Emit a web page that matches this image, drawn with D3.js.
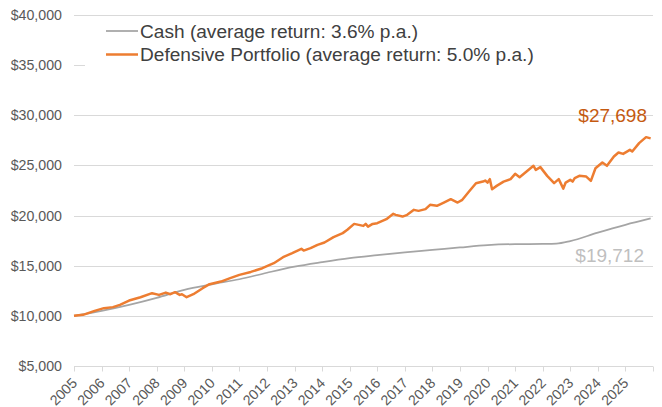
<!DOCTYPE html>
<html>
<head>
<meta charset="utf-8">
<script src="https://cdnjs.cloudflare.com/ajax/libs/d3/7.8.5/d3.min.js"></script>
<style>
  body { margin: 0; background: #fff; }
  text { font-family: Arial, "Liberation Sans", sans-serif; }
</style>
</head>
<body>
<div id="chart"></div>
<script>
// y axis ticks
var yTicks = [5000, 10000, 15000, 20000, 25000, 30000, 35000, 40000];

// x axis year labels (ticks at each Jan)
var yearLabels = d3.range(2005, 2026);

// cash series (smooth, read at a few points)
var cashDates = ['2005-01', '2006-01', '2007-01', '2008-01', '2009-01', '2010-01', '2011-01',
  '2012-01', '2013-01', '2014-01', '2015-01', '2016-01', '2017-01', '2018-01', '2019-01',
  '2020-01', '2021-01', '2022-01', '2022-07', '2023-01', '2024-01', '2025-01', '2025-12'];
var cashValues = [10000, 10500, 11100, 11800, 12600, 13150, 13650,
  14300, 14900, 15350, 15750, 16050, 16330, 16570, 16820,
  17050, 17150, 17170, 17200, 17450, 18300, 19080, 19712];

// defensive portfolio series
var defDates = ['2005-01', '2005-05', '2005-10', '2006-02', '2006-06', '2006-09', '2007-01',
  '2007-06', '2007-11', '2008-02', '2008-05', '2008-07', '2008-09', '2008-11', '2008-12',
  '2009-02', '2009-05', '2009-09', '2009-12', '2010-05', '2010-09', '2011-01', '2011-06',
  '2011-11', '2012-04', '2012-08', '2012-12', '2013-04', '2013-05', '2013-08', '2013-11',
  '2014-02', '2014-06', '2014-10', '2014-12', '2015-03', '2015-05', '2015-07', '2015-08',
  '2015-09', '2015-11', '2016-01', '2016-05', '2016-08', '2016-09', '2016-12', '2017-02',
  '2017-05', '2017-07', '2017-10', '2017-12', '2018-03', '2018-06', '2018-09', '2018-12',
  '2019-02', '2019-05', '2019-08', '2019-11', '2019-12', '2020-01', '2020-02', '2020-03',
  '2020-05', '2020-08', '2020-11', '2021-01', '2021-03', '2021-06', '2021-09', '2021-10',
  '2021-12', '2022-03', '2022-06', '2022-08', '2022-10', '2022-11', '2023-01', '2023-02',
  '2023-03', '2023-05', '2023-08', '2023-10', '2023-12', '2024-03', '2024-05', '2024-08',
  '2024-10', '2024-12', '2025-03', '2025-04', '2025-07', '2025-10', '2025-12'];
var defValues = [10000, 10100, 10500, 10770, 10870, 11100, 11530,
  11860, 12260, 12090, 12320, 12160, 12360, 12090, 12160,
  11860, 12160, 12760, 13160, 13420, 13760, 14090, 14380,
  14750, 15250, 15850, 16250, 16680, 16510, 16750, 17080,
  17310, 17850, 18250, 18580, 19170, 19070, 18970, 19170,
  18900, 19170, 19240, 19640, 20170, 20070, 19900, 20070,
  20570, 20470, 20640, 21070, 20970, 21300, 21630, 21300,
  21570, 22400, 23230, 23390, 23490, 23290, 23630, 22630,
  22960, 23390, 23630, 24160, 23830, 24390, 24960, 24560,
  24830, 23960, 23230, 23630, 22690, 23290, 23560, 23390,
  23730, 23960, 23890, 23460, 24720, 25290, 24960, 25890,
  26290, 26150, 26550, 26390, 27220, 27820, 27698];

var seriesNames = ['Cash (average return: 3.6% p.a.)', 'Defensive Portfolio (average return: 5.0% p.a.)'];
var seriesColors = ['#a5a5a5', '#ed7d31'];
var endLabels = ['$19,712', '$27,698'];

var width = 662, height = 407;
var margin = { top: 15, right: 9, bottom: 41, left: 74 };

var parse = d3.timeParse('%Y-%m');

var x = d3.scaleTime()
  .domain([new Date(2005, 0, 1), new Date(2026, 0, 1)])
  .range([margin.left, width - margin.right]);

var y = d3.scaleLinear()
  .domain([5000, 40000])
  .range([height - margin.bottom, margin.top]);

var svg = d3.select('#chart').append('svg')
  .attr('width', width)
  .attr('height', height);

//////////////////////// gridlines & axes ////////////////////////

svg.append('g')
  .selectAll('line')
  .data(yTicks)
  .enter().append('line')
  .attr('x1', x.range()[0])
  .attr('x2', x.range()[1])
  .attr('y1', function(d) { return Math.round(y(d)) + 0.5; })
  .attr('y2', function(d) { return Math.round(y(d)) + 0.5; })
  .attr('stroke', '#d9d9d9')
  .attr('stroke-width', 1);

svg.append('g')
  .selectAll('text')
  .data(yTicks)
  .enter().append('text')
  .attr('x', 62)
  .attr('y', function(d) { return y(d); })
  .attr('dy', '0.35em')
  .attr('text-anchor', 'end')
  .attr('font-size', '14.2px')
  .attr('fill', '#595959')
  .text(function(d) { return '$' + d3.format(',')(d); });

// year ticks on the bottom line
var yearTicks = d3.range(2005, 2027).map(function(yr) { return new Date(yr, 0, 1); });
var baseY = Math.round(y(5000)) + 0.5;

svg.append('g')
  .selectAll('line')
  .data(yearTicks)
  .enter().append('line')
  .attr('x1', function(d) { return Math.round(x(d)) + 0.5; })
  .attr('x2', function(d) { return Math.round(x(d)) + 0.5; })
  .attr('y1', baseY)
  .attr('y2', baseY + 5)
  .attr('stroke', '#d9d9d9');

svg.append('g')
  .selectAll('text')
  .data(yearLabels)
  .enter().append('text')
  .attr('transform', function(d) {
    return 'translate(' + (x(new Date(d, 0, 1)) + 4) + ',' + 384 + ') rotate(-45)';
  })
  .attr('text-anchor', 'end')
  .attr('font-size', '14.2px')
  .attr('fill', '#595959')
  .text(function(d) { return d; });

//////////////////////// lines ////////////////////////

var line = d3.line()
  .x(function(d) { return x(d.date); })
  .y(function(d) { return y(d.value); });

var cash = cashDates.map(function(d, i) { return { date: parse(d), value: cashValues[i] }; });
var def = defDates.map(function(d, i) { return { date: parse(d), value: defValues[i] }; });

svg.append('path')
  .datum(cash)
  .attr('d', line.curve(d3.curveMonotoneX))
  .attr('fill', 'none')
  .attr('stroke', seriesColors[0])
  .attr('stroke-width', 1.75);

svg.append('path')
  .datum(def)
  .attr('d', line.curve(d3.curveLinear))
  .attr('fill', 'none')
  .attr('stroke', seriesColors[1])
  .attr('stroke-width', 2.5)
  .attr('stroke-linejoin', 'round');

// end value labels
svg.append('text')
  .attr('x', 647)
  .attr('y', 122)
  .attr('text-anchor', 'end')
  .attr('font-size', '19px')
  .attr('fill', '#c55a11')
  .text(endLabels[1]);

svg.append('text')
  .attr('x', 644)
  .attr('y', 262)
  .attr('text-anchor', 'end')
  .attr('font-size', '19px')
  .attr('fill', '#bfbfbf')
  .text(endLabels[0]);

//////////////////////// legend ////////////////////////

var legend = svg.append('g');

legend.append('rect')
  .attr('x', 85)
  .attr('y', 18)
  .attr('width', width - margin.right - 85)
  .attr('height', 56)
  .attr('fill', '#fff');

var items = legend.selectAll('.item')
  .data(seriesNames)
  .enter().append('g')
  .attr('class', 'item')
  .attr('transform', function(d, i) { return 'translate(0,' + (31 + i * 23.5) + ')'; });

items.append('line')
  .attr('x1', 106)
  .attr('x2', 138)
  .attr('stroke', function(d, i) { return seriesColors[i]; })
  .attr('stroke-width', function(d, i) { return i === 1 ? 2.5 : 1.75; });

items.append('text')
  .attr('x', 140)
  .attr('dy', '0.35em')
  .attr('font-size', '19.1px')
  .attr('fill', '#404040')
  .text(function(d) { return d; });
</script>
</body>
</html>
